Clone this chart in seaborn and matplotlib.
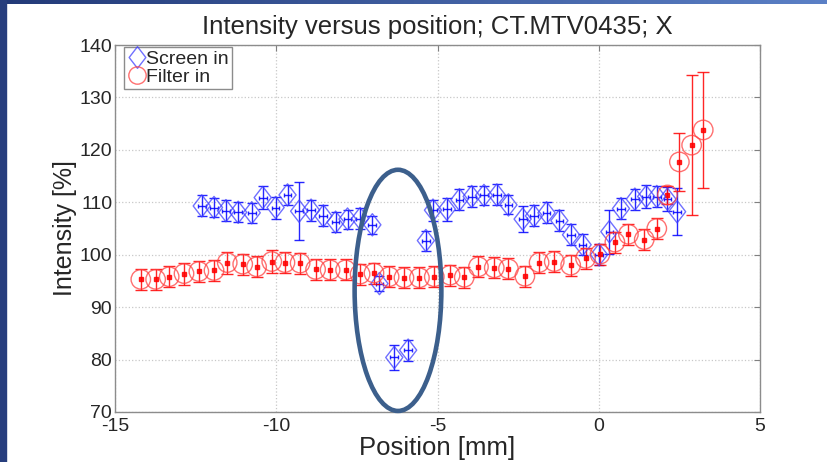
import numpy as np
import matplotlib
matplotlib.use('Agg')
import matplotlib.pyplot as plt
import seaborn as sns
from matplotlib.patches import Ellipse, Rectangle
from matplotlib.lines import Line2D
from matplotlib.path import Path
from matplotlib.colors import LinearSegmentedColormap

# Screen in (blue diamonds)
screen_x = [-12.31, -11.93, -11.56, -11.18, -10.76, -10.42, -10.02, -9.65, -9.29, -8.92,
            -8.54, -8.16, -7.79, -7.40, -7.02, -6.80, -6.34, -5.91, -5.36, -5.14,
            -4.71, -4.32, -3.94, -3.56, -3.16, -2.80, -2.36, -2.01, -1.62, -1.22,
            -0.86, -0.50, 0.01, 0.33, 0.69, 1.12, 1.47, 1.80, 2.13, 2.43]
screen_y = [109.3, 109.0, 108.4, 108.1, 108.0, 110.9, 109.0, 111.4, 108.3, 108.5,
            107.4, 106.2, 106.8, 106.9, 105.7, 94.5, 80.4, 81.8, 102.7, 108.5,
            108.7, 110.5, 111.1, 111.3, 111.4, 109.5, 106.8, 107.4, 108.0, 106.5,
            103.8, 101.9, 100.0, 104.4, 108.8, 110.6, 111.1, 111.1, 110.6, 108.2]
screen_err = [2.0, 1.8, 2.0, 1.9, 1.9, 2.2, 2.1, 1.9, 5.5, 2.0,
              2.0, 1.9, 1.8, 2.0, 1.7, 1.5, 2.3, 2.0, 1.9, 2.0,
              2.2, 2.0, 2.0, 1.9, 2.0, 1.8, 2.5, 2.0, 2.0, 2.0,
              2.0, 2.0, 2.0, 4.2, 2.0, 2.0, 2.2, 2.0, 2.3, 4.5]
screen_xerr = 0.12

# Filter in (red circles)
filter_x = [-14.20, -13.74, -13.32, -12.86, -12.40, -11.93, -11.52, -11.04, -10.61, -10.14,
            -9.73, -9.26, -8.78, -8.33, -7.85, -7.40, -6.97, -6.50, -6.04, -5.56,
            -5.10, -4.61, -4.17, -3.73, -3.24, -2.80, -2.29, -1.85, -1.38, -0.87,
            -0.41, 0.04, 0.50, 0.92, 1.41, 1.80, 2.13, 2.50, 2.88, 3.24]
filter_y = [95.3, 95.3, 95.8, 96.4, 96.8, 97.0, 98.5, 98.2, 97.7, 98.7,
            98.5, 98.4, 97.2, 97.1, 97.1, 96.3, 96.5, 95.8, 95.6, 95.6,
            95.8, 96.1, 95.7, 97.7, 97.5, 97.3, 95.9, 98.5, 98.7, 98.0,
            99.3, 100.1, 102.4, 103.9, 102.9, 105.0, 111.4, 117.7, 120.9, 123.8]
filter_err = [2.0, 2.0, 2.0, 2.1, 2.0, 2.0, 2.1, 2.0, 2.0, 2.2,
              2.0, 2.0, 2.0, 2.0, 2.0, 2.0, 2.0, 2.0, 2.0, 2.0,
              2.0, 2.0, 2.0, 2.0, 2.0, 2.0, 2.0, 2.0, 2.0, 2.0,
              2.0, 2.0, 2.0, 2.0, 2.0, 2.0, 1.8, 5.5, 13.3, 11.1]

x_ticks = [-15, -10, -5, 0, 5]
y_ticks = [70, 80, 90, 100, 110, 120, 130, 140]

sns.set_style('white')
plt.rcParams['font.family'] = ['Liberation Sans', 'DejaVu Sans']
plt.rcParams['axes.unicode_minus'] = False

W, H = 828, 462
fig = plt.figure(figsize=(W / 100, H / 100), dpi=100)
ax = fig.add_axes([115 / W, 50 / H, 645 / W, 367 / H])

# diamond a bit narrower than tall, like the MATLAB one
diamond = Path([(0, 1), (0.77, 0), (0, -1), (-0.77, 0), (0, 1)],
               [Path.MOVETO, Path.LINETO, Path.LINETO, Path.LINETO, Path.CLOSEPOLY])

blue_face = (0.25, 0.25, 1.0, 0.75)
red_face = (1.0, 0.25, 0.25, 0.75)

# error bars
ax.errorbar(screen_x, screen_y, yerr=screen_err, fmt='none', ecolor=(0, 0, 1, 0.85),
            elinewidth=1, capsize=3.4, capthick=1, zorder=3)
ax.errorbar(screen_x, screen_y, xerr=screen_xerr, fmt='none', ecolor=(0, 0, 1, 0.85),
            elinewidth=1, capsize=1.5, capthick=1, zorder=3)
ax.errorbar(filter_x, filter_y, yerr=filter_err, fmt='s', ms=2.2, color=(1, 0, 0, 0.85),
            elinewidth=1, capsize=4, capthick=1, zorder=3)

# open markers
sns.scatterplot(x=screen_x, y=screen_y, marker=diamond, s=16 ** 2, color=blue_face,
                linewidth=1, ax=ax, zorder=4)
ax.collections[-1].set_facecolor('none')
ax.collections[-1].set_edgecolor(blue_face)
sns.scatterplot(x=filter_x, y=filter_y, marker='o', s=14 ** 2, color=red_face,
                linewidth=1, ax=ax, zorder=4)
ax.collections[-1].set_facecolor('none')
ax.collections[-1].set_edgecolor(red_face)

ax.set_xlim(-15, 5)
ax.set_ylim(70, 140)
ax.set_xticks(x_ticks)
ax.set_yticks(y_ticks)
ax.grid(True, linestyle=':', color='#c8c8c8', linewidth=0.9)
ax.tick_params(direction='in', length=4, width=0.8, color='#808080', labelsize=14,
               top=True, right=True, pad=2)
ax.tick_params(axis='x', pad=4)
for s in ax.spines.values():
    s.set_color('#8c8c8c')
    s.set_linewidth(1)

ax.set_title('Intensity versus position; CT.MTV0435; X', fontsize=18.5, pad=8)
ax.set_xlabel('Position [mm]', fontsize=18.5, labelpad=1)
ax.set_ylabel('Intensity [%]', fontsize=18, labelpad=2)

handles = [
    Line2D([], [], ls='none', marker=diamond, ms=15.6, mfc='none', mec=blue_face, mew=1),
    Line2D([], [], ls='none', marker='o', ms=12.5, mfc='none', mec=red_face, mew=1),
]
leg = ax.legend(handles, ['Screen in', 'Filter in'], loc='upper left',
                bbox_to_anchor=(9 / 645, 365 / 367), borderaxespad=0, fontsize=14,
                handletextpad=0.0, handlelength=1.0, borderpad=0.15, labelspacing=0.05,
                fancybox=False, framealpha=1)
leg.get_frame().set_edgecolor('#8c8c8c')
leg.get_frame().set_linewidth(1)

# the hand-drawn ellipse around the dip
ax.add_patch(Ellipse((-6.225, 93.2), 2.69, 46, fill=False, ec='#3c5f8c', lw=3.3,
                     clip_on=False, zorder=6))

# slide frame: gradient band on top, dark strip on the left
band = fig.add_axes([0, 1 - 4 / H, 1, 4 / H])
band.imshow(np.linspace(0, 1, 256)[None, :], aspect='auto',
            cmap=LinearSegmentedColormap.from_list('band', ['#233a78', '#5b80c6']))
band.axis('off')
fig.add_artist(Rectangle((0, 0), 6 / W, 1, transform=fig.transFigure,
                         color='#273e7d', zorder=10))

fig.savefig('out.png', dpi=100)
